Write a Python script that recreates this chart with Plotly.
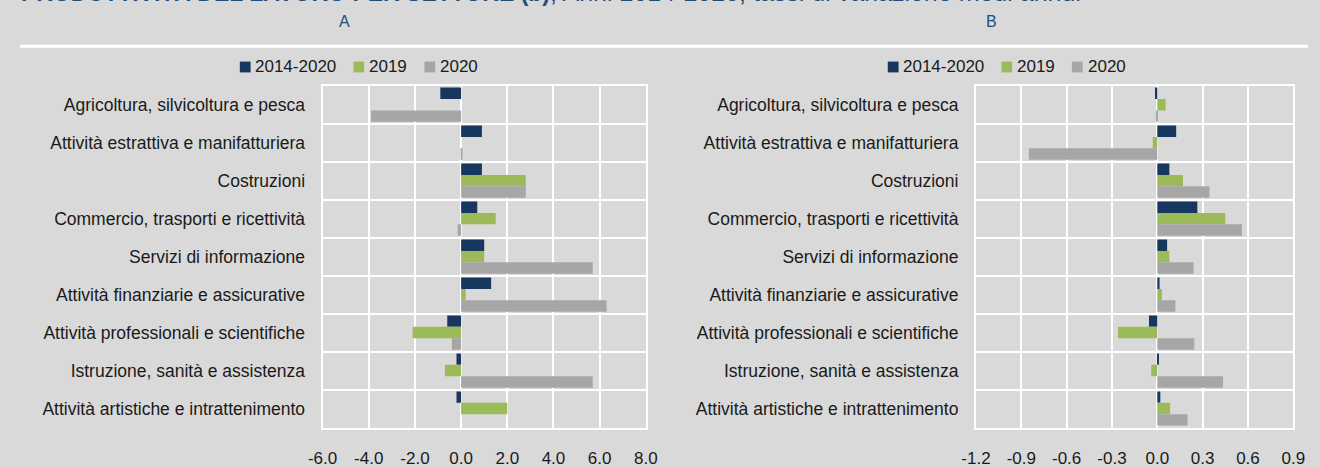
import plotly.graph_objects as go

categories = [
    "Agricoltura, silvicoltura e pesca",
    "Attività estrattiva e manifatturiera",
    "Costruzioni",
    "Commercio, trasporti e ricettività",
    "Servizi di informazione",
    "Attività finanziarie e assicurative",
    "Attività professionali e scientifiche",
    "Istruzione, sanità e assistenza",
    "Attività artistiche e intrattenimento",
]
series_names = ["2014-2020", "2019", "2020"]

a_2014_2020 = [-0.9, 0.9, 0.9, 0.7, 1.0, 1.3, -0.6, -0.2, -0.2]
a_2019 = [0.0, 0.0, 2.8, 1.5, 1.0, 0.2, -2.1, -0.7, 2.0]
a_2020 = [-3.9, 0.05, 2.8, -0.15, 5.7, 6.3, -0.4, 5.7, 0.0]

b_2014_2020 = [-0.015, 0.125, 0.08, 0.265, 0.065, 0.015, -0.055, 0.01, 0.02]
b_2019 = [0.055, -0.03, 0.17, 0.45, 0.08, 0.03, -0.26, -0.04, 0.085]
b_2020 = [-0.005, -0.85, 0.345, 0.56, 0.24, 0.12, 0.245, 0.435, 0.2]

a_ticks = [-6.0, -4.0, -2.0, 0.0, 2.0, 4.0, 6.0, 8.0]
b_ticks = [-1.2, -0.9, -0.6, -0.3, 0.0, 0.3, 0.6, 0.9]

title_bold = "PRODUTTIVITÀ DEL LAVORO PER SETTORE (b)"
title_rest = "; Anni 2014-2020, tassi di variazione medi annui"
panel_labels = ["A", "B"]

colors = ["#17375E", "#9BBB59", "#A6A6A6"]
BG = "#D9D9D9"
W, H = 1320, 468
FONT = "Liberation Sans, Arial, sans-serif"
TXT = "#1a1a1a"

fig = go.Figure()

a_vals = [a_2014_2020, a_2019, a_2020]
b_vals = [b_2014_2020, b_2019, b_2020]

for name, vals, c in zip(series_names, a_vals, colors):
    fig.add_trace(go.Bar(
        y=categories, x=vals, name=name, orientation="h",
        marker=dict(color=c, line=dict(width=0)),
        xaxis="x", yaxis="y", showlegend=False,
    ))
for name, vals, c in zip(series_names, b_vals, colors):
    fig.add_trace(go.Bar(
        y=categories, x=vals, name=name, orientation="h",
        marker=dict(color=c, line=dict(width=0)),
        xaxis="x2", yaxis="y2", showlegend=False,
    ))

def px_x(p):
    return p / W

def px_y(p):
    return 1 - p / H

ydom = [px_y(434), px_y(87)]

common_x = dict(
    showgrid=True, gridcolor="white", gridwidth=2,
    zeroline=True, zerolinecolor="white", zerolinewidth=2,
    showline=True, linecolor="white", linewidth=2, mirror=True,
    ticks="", tickfont=dict(family=FONT, size=17, color=TXT),
    ticklabelstandoff=14,
    fixedrange=True,
)
common_y = dict(
    type="category", autorange="reversed", tickson="boundaries",
    showgrid=True, gridcolor="white", gridwidth=2,
    showline=True, linecolor="white", linewidth=2, mirror=True,
    ticks="", tickfont=dict(family=FONT, size=17.5, color=TXT),
    ticklabelstandoff=12,
    fixedrange=True,
)

fig.update_layout(
    width=W, height=H,
    margin=dict(l=0, r=0, t=0, b=0),
    paper_bgcolor=BG, plot_bgcolor=BG,
    barmode="group", bargap=0.1, bargroupgap=0,
    xaxis=dict(domain=[px_x(314), px_x(644)], range=[-6, 8],
               tickvals=a_ticks, ticktext=[f"{v:.1f}" for v in a_ticks],
               anchor="y", **common_x),
    yaxis=dict(domain=ydom, anchor="x", **common_y),
    xaxis2=dict(domain=[px_x(981), px_x(1305)], range=[-1.2, 0.9],
                tickvals=b_ticks, ticktext=[f"{v:.1f}" for v in b_ticks],
                anchor="y2", **common_x),
    yaxis2=dict(domain=ydom, anchor="x2", **common_y),
    showlegend=False,
)

# legends (one per panel), drawn as squares + real text
legend_square_left = [[229.5, 345.5, 418.0], [891.0, 1007.0, 1079.0]]
LEG_Y = 68
SQ = 11
for lefts in legend_square_left:
    for name, c, x0 in zip(series_names, colors, lefts):
        fig.add_shape(type="rect", xref="paper", yref="paper",
                      x0=px_x(x0), x1=px_x(x0 + SQ),
                      y0=px_y(LEG_Y + SQ / 2), y1=px_y(LEG_Y - SQ / 2),
                      fillcolor=c, line=dict(width=0))
        fig.add_annotation(xref="paper", yref="paper",
                           x=px_x(x0 + SQ + 4), y=px_y(LEG_Y),
                           xanchor="left", yanchor="middle", showarrow=False,
                           text=name, font=dict(family=FONT, size=17, color=TXT),
                           borderpad=0)

fig.add_annotation(
    xref="paper", yref="paper", x=px_x(4), y=px_y(8),
    xanchor="left", yanchor="bottom", showarrow=False,
    text=f"<b>{title_bold}</b><span style='font-size:25px'>{title_rest}</span>",
    font=dict(family=FONT, size=23, color="#1F4E79"),
)
for lab, cx in zip(panel_labels, [336, 997]):
    fig.add_annotation(
        xref="paper", yref="paper", x=px_x(cx), y=px_y(22),
        xanchor="center", yanchor="middle", showarrow=False,
        text=lab, font=dict(family=FONT, size=16, color="#1F4E79"),
    )

fig.add_shape(type="line", xref="paper", yref="paper",
              x0=px_x(5), x1=1, y0=px_y(47), y1=px_y(47),
              line=dict(color="white", width=3))

fig.write_html("out.html",
               config=dict(displayModeBar=False, staticPlot=False),
               post_script="document.body.style.margin='0';document.body.style.overflow='hidden';")
